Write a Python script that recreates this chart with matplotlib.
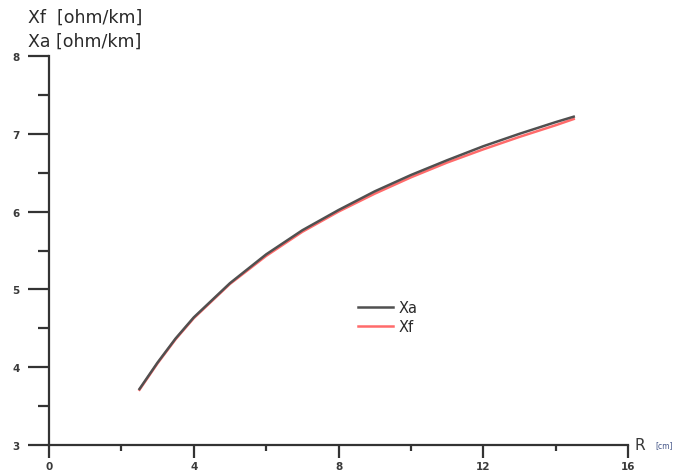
import matplotlib
matplotlib.use("Agg")
import matplotlib.pyplot as plt
from matplotlib.ticker import MultipleLocator

# Data
r_cm = [2.5, 3.0, 3.5, 4.0, 5.0, 6.0, 7.0, 8.0, 9.0, 10.0, 11.0, 12.0, 13.0, 14.0, 14.5]
xa = [3.72, 4.06, 4.37, 4.64, 5.08, 5.45, 5.76, 6.02, 6.26, 6.47, 6.66, 6.84, 7.00, 7.15, 7.22]
xf = [3.71, 4.05, 4.36, 4.63, 5.07, 5.43, 5.74, 6.00, 6.23, 6.44, 6.63, 6.80, 6.96, 7.11, 7.19]
x_ticks = [0, 4, 8, 12, 16]
y_ticks = [3, 4, 5, 6, 7, 8]

plt.rcParams['font.family'] = ['DejaVu Sans']

fig = plt.figure(figsize=(6.8, 4.77), dpi=100)
ax = fig.add_axes([49/680, 31/477, (628-49)/680, (446-57)/477])

ax.plot(r_cm, xa, color='#505050', lw=1.8, label='Xa', zorder=3)
ax.plot(r_cm, xf, color='#ff6b6b', lw=1.8, label='Xf', zorder=2)

ax.set_xlim(0, 16)
ax.set_ylim(3, 8)
ax.set_xticks(x_ticks)
ax.set_yticks(y_ticks)
ax.xaxis.set_minor_locator(MultipleLocator(2))
ax.yaxis.set_minor_locator(MultipleLocator(0.5))

for s in ['top', 'right']:
    ax.spines[s].set_visible(False)
for s in ['left', 'bottom']:
    ax.spines[s].set_color('#333333')
    ax.spines[s].set_linewidth(1.6)

ax.tick_params(axis='y', which='major', direction='out', length=15, width=1.6,
               color='#333333', pad=6, labelsize=7.5, labelcolor='#3a3a3a')
ax.tick_params(axis='y', which='minor', direction='out', length=8, width=1.6, color='#333333')
ax.tick_params(axis='x', which='major', direction='out', length=9, width=1.6,
               color='#333333', pad=2.5, labelsize=7.5, labelcolor='#3a3a3a')
ax.tick_params(axis='x', which='minor', direction='out', length=4.5, width=1.6, color='#333333')
for lbl in ax.get_xticklabels() + ax.get_yticklabels():
    lbl.set_fontweight('bold')

fig.text(28/680, 1-18/477, 'Xf  [ohm/km]', fontsize=12.5, color='#2a2a2a', va='center', ha='left')
fig.text(28/680, 1-42/477, 'Xa [ohm/km]', fontsize=12.5, color='#2a2a2a', va='center', ha='left')
fig.text(635/680, 1-446/477, 'R', fontsize=11, color='#3a3a3a', va='center', ha='left')
fig.text(655/680, 1-446/477, '[cm]', fontsize=5.5, color='#445588', va='center', ha='left')

leg = ax.legend(loc='upper left', bbox_to_anchor=(358/680, 1-301/477), bbox_transform=fig.transFigure,
                frameon=False, fontsize=10.5, handlelength=2.4, handletextpad=0.4,
                labelspacing=0.25, borderpad=0, borderaxespad=0)
for t in leg.get_texts():
    t.set_color('#2a2a2a')

fig.savefig('out.png', dpi=100, facecolor='white')
